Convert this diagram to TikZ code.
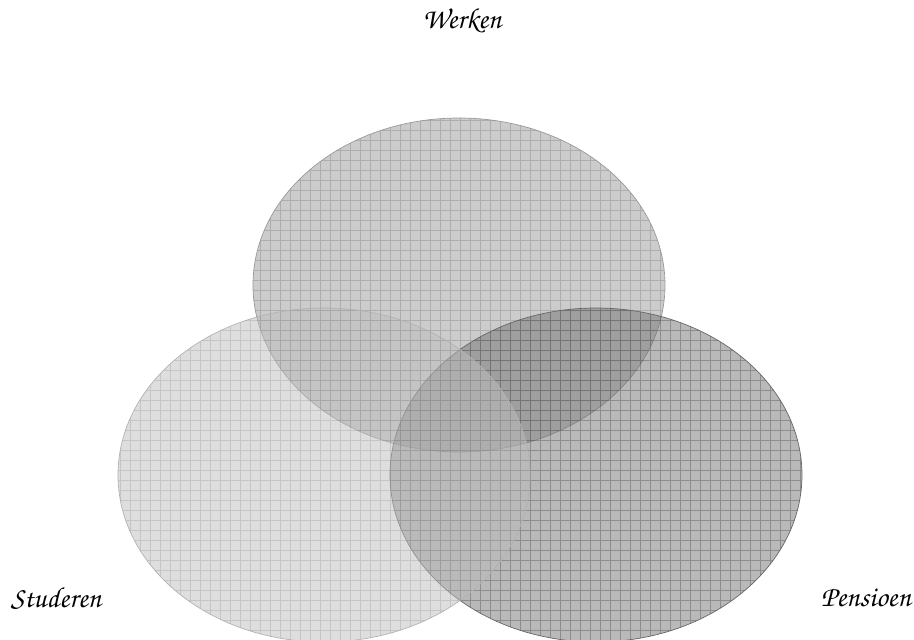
\documentclass[tikz,border=0pt]{standalone}
\usepackage[T1,TU]{fontenc}
\IfFileExists{t1pzc.fd}{%
  \newcommand\chfont{\fontencoding{T1}\fontfamily{pzc}\fontseries{mb}\fontshape{it}\selectfont}%
}{%
  \IfFileExists{t1qzc.fd}{%
    \newcommand\chfont{\fontencoding{T1}\fontfamily{qzc}\fontseries{m}\fontshape{it}\selectfont}%
  }{%
    \newcommand\chfont{\itshape}%
  }%
}
\tikzset{
  vlabel/.style={font=\chfont\fontsize{29}{34}\selectfont, inner sep=0pt},
}
\begin{document}
\begin{tikzpicture}[x=1pt,y=-1pt]
\useasboundingbox (0,0) rectangle (914,640);
% top (Werken)
\begin{scope}
  \clip (459,285) ellipse [x radius=206, y radius=167];
  \fill[gray!40!white] (253,118) rectangle (665,452);
  \draw[black!32, line width=0.6] (250pt,-460pt) grid[step=10pt] (670pt,-110pt);
\end{scope}
\draw[black!40, line width=0.7] (459,285) ellipse [x radius=206, y radius=167];
% right (Pensioen)
\begin{scope}
  \clip (596,475) ellipse [x radius=206, y radius=167];
  \fill[black!55, fill opacity=0.5] (389,308) rectangle (803,642);
  \draw[black!70, line width=0.6, opacity=0.4] (385pt,-645pt) grid[step=10pt] (805pt,-305pt);
\end{scope}
\draw[black!60, line width=0.7] (596,475) ellipse [x radius=206, y radius=167];
% left (Studeren)
\begin{scope}
  \clip (324,475) ellipse [x radius=206, y radius=167];
  \fill[black!26, fill opacity=0.5] (117,308) rectangle (531,642);
  \draw[black!45, line width=0.6, opacity=0.3] (115pt,-645pt) grid[step=10pt] (535pt,-305pt);
\end{scope}
\draw[black!30, line width=0.7] (324,475) ellipse [x radius=206, y radius=167];
\node[vlabel] (werken) at (462,21) {Werken};
\node[vlabel] (studeren) at (56,598) {Studeren};
\node[vlabel] (pensioen) at (866,598) {Pensioen};
\end{tikzpicture}
\end{document}
